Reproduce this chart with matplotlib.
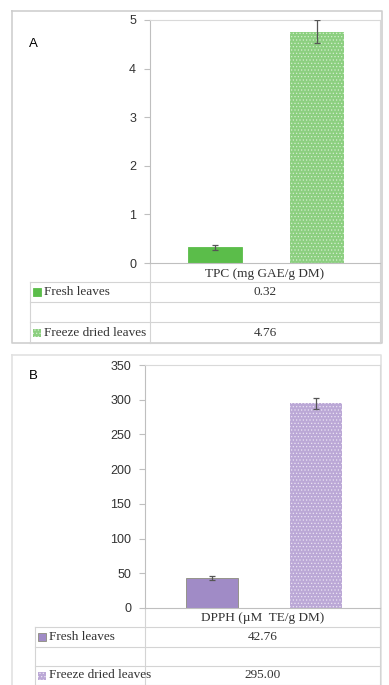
import matplotlib
matplotlib.use("Agg")
import matplotlib.pyplot as plt
from matplotlib.patches import Rectangle

# ---- data ----
series = ["Fresh leaves", "Freeze dried leaves"]
tpc_label = "TPC (mg GAE/g DM)"
tpc_values = [0.32, 4.76]
tpc_errors = [0.05, 0.24]
tpc_ticks = [0, 1, 2, 3, 4, 5]

dpph_label = "DPPH (\u00b5M  TE/g DM)"
dpph_values = [42.76, 295.00]
dpph_errors = [3.0, 8.0]
dpph_ticks = [0, 50, 100, 150, 200, 250, 300, 350]

W, H = 389, 685
fig = plt.figure(figsize=(W / 100, H / 100), dpi=100)
fig.patch.set_facecolor("white")
plt.rcParams["hatch.linewidth"] = 0.5

SANS = ["Liberation Sans", "DejaVu Sans"]
SERIF = ["Liberation Serif", "DejaVu Serif"]
LINE = "#d4d4d4"


def px_axes(left, top, right, bottom, **kw):
    return fig.add_axes([left / W, 1 - bottom / H, (right - left) / W, (bottom - top) / H], **kw)


# overlay in pixel coordinates for frames and data tables
ov = px_axes(0, 0, W, H, zorder=0)
ov.set_xlim(0, W)
ov.set_ylim(H, 0)
ov.axis("off")


def style_of(kind, colors):
    fresh_color, dried_color, fresh_edge, dot_color = colors
    if kind == 0:
        return dict(facecolor=fresh_color, edgecolor=fresh_edge, linewidth=0.6)
    return dict(facecolor=dried_color, edgecolor=dot_color, hatch=".....", linewidth=0)


def panel(letter, frame, frame_color, plot_box, values, errors, ticks, cat_label,
          colors, xlim, width, table_left, rows, letter_y):
    fl, ft, fr, fb = frame
    ov.plot([fl, fr, fr, fl, fl], [ft, ft, fb, fb, ft], color=frame_color, lw=1.2,
            clip_on=False)
    ov.text(fl + 17, letter_y, letter, fontsize=9.5,
            family=SANS, ha="left", va="center")

    pl, pt, pr, pb = plot_box
    ax = px_axes(pl, pt, pr, pb, zorder=2)
    ax.patch.set_alpha(0)
    x = [0, 1]
    for i in range(2):
        st = style_of(i, colors)
        ax.bar(x[i], values[i], width=width, zorder=2, **st)
        ax.errorbar(x[i], values[i], yerr=errors[i], fmt="none", ecolor="#555555",
                    elinewidth=0.9, capsize=2.5, capthick=0.9, zorder=3)
    ax.set_xlim(*xlim)
    ax.set_ylim(ticks[0], ticks[-1])
    ax.set_yticks(ticks)
    ax.set_yticklabels([str(t) for t in ticks], family=SANS, fontsize=9, color="#333333")
    ax.set_xticks([])
    for s in ["top", "right"]:
        ax.spines[s].set_color("#d9d9d9")
        ax.spines[s].set_linewidth(0.8)
    ax.spines["left"].set_color("#bfbfbf")
    ax.spines["bottom"].set_color("#bfbfbf")
    ax.spines["left"].set_linewidth(0.8)
    ax.spines["bottom"].set_linewidth(0.8)
    ax.tick_params(axis="y", length=4, width=0.8, color="#bfbfbf", pad=6)

    # data table under the plot
    r0, r1, r2, r3, r4 = rows
    tr = pr
    ov.plot([pl, pl], [pb, r4], color=LINE, lw=0.8)
    ov.plot([tr, tr], [pb, r4], color=LINE, lw=0.8)
    ov.plot([table_left, table_left], [r1, r4], color=LINE, lw=0.8)
    for yy in (r1, r2, r3, r4):
        ov.plot([table_left, tr], [yy, yy], color=LINE, lw=0.8)
    mid = (pl + tr) / 2
    ov.text(mid, (pb + r1) / 2 + 1, cat_label, family=SERIF, fontsize=9.5,
            ha="center", va="center", color="#333333")
    row_y = [(r1 + r2) / 2, (r3 + r4) / 2]
    for i in range(2):
        st = style_of(i, colors)
        ov.add_patch(Rectangle((table_left + 3, row_y[i] - 4), 8, 8, **st))
        ov.text(table_left + 14, row_y[i], series[i], family=SERIF, fontsize=9.5,
                ha="left", va="center", color="#333333")
        ov.text(mid, row_y[i], f"{values[i]:.2f}", family=SERIF, fontsize=9.5,
                ha="center", va="center", color="#333333")


panel("A", (12, 11, 382, 343), "#cfcfcf", (150, 20, 380, 263), tpc_values, tpc_errors,
      tpc_ticks, tpc_label, ("#5bbd4a", "#8ccf80", "#5bbd4a", "#d4eecf"),
      (-0.634, 1.61), 0.527, 30, (263, 282, 302, 322, 343), 44)

panel("B", (12, 355, 381, 700), "#e2e2e2", (145, 365, 380, 608), dpph_values, dpph_errors,
      dpph_ticks, dpph_label, ("#a08bc6", "#bba8d6", "#8c8c7c", "#ebe3f3"),
      (-0.644, 1.615), 0.5, 35, (608, 627, 647, 666, 685), 376)

fig.savefig("out.png", dpi=100, facecolor="white")
